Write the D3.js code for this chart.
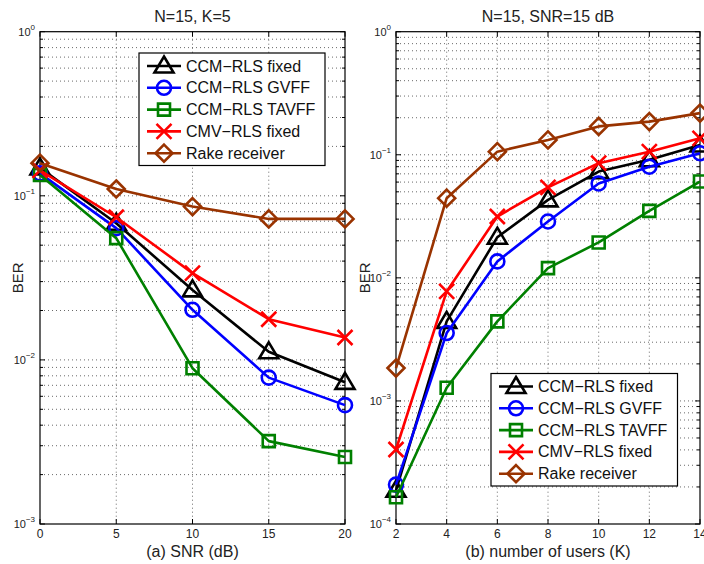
<!DOCTYPE html>
<html><head><meta charset="utf-8">
<script src="https://cdn.jsdelivr.net/npm/d3@7"></script>
<style>
html,body{margin:0;padding:0;background:#fff;}
svg{display:block;font-family:"Liberation Sans",Arial,Helvetica,sans-serif;}
</style></head>
<body>
<script>
// ---------- data ----------
const seriesNames = ["CCM\u2212RLS fixed","CCM\u2212RLS GVFF","CCM\u2212RLS TAVFF","CMV\u2212RLS fixed","Rake receiver"];
const seriesColors = ["#000000","#0000ff","#008000","#ff0000","#993300"];
const seriesMarkers = ["triangle","circle","square","cross","diamond"];

// (a) BER vs SNR
const snr = [0,5,10,15,20];
const berA_ccmFixed = [0.148,0.068,0.0267,0.0112,0.0073];
const berA_ccmGVFF  = [0.137,0.0635,0.0202,0.0078,0.0053];
const berA_ccmTAVFF = [0.134,0.0552,0.0089,0.0032,0.00256];
const berA_cmvFixed = [0.143,0.074,0.0338,0.0177,0.0137];
const berA_rake     = [0.158,0.110,0.086,0.0723,0.0723];

// (b) BER vs number of users
const users = [2,4,6,8,10,12,14];
const berB_ccmFixed = [0.000188,0.00443,0.0214,0.043,0.073,0.091,0.12];
const berB_ccmGVFF  = [0.000209,0.00356,0.0136,0.0287,0.0585,0.080,0.103];
const berB_ccmTAVFF = [0.000165,0.00128,0.00443,0.012,0.0194,0.035,0.0606];
const berB_cmvFixed = [0.000403,0.00776,0.0315,0.0544,0.0855,0.106,0.136];
const berB_rake     = [0.00185,0.0444,0.106,0.132,0.170,0.186,0.218];

const xTicksA = [0,5,10,15,20];
const xTicksB = [2,4,6,8,10,12,14];
const yExpA = [0,-1,-2,-3];
const yExpB = [0,-1,-2,-3,-4];

const titles = ["N=15, K=5","N=15, SNR=15 dB"];
const xLabels = ["(a) SNR (dB)","(b) number of users (K)"];
const yLabel = "BER";

// ---------- drawing ----------
const W=704,H=564;
const svg=d3.select("body").append("svg").attr("width",W).attr("height",H);

function markerPath(type){
  switch(type){
    case "triangle": return "M0,-9.5L9.5,6.5L-9.5,6.5Z";
    case "square": return "M-6,-6H6V6H-6Z";
    case "diamond": return "M0,-8.5L8.5,0L0,8.5L-8.5,0Z";
    case "cross": return "M-7.5,-7.5L7.5,7.5M7.5,-7.5L-7.5,7.5";
    default: return null;
  }
}
function drawMarker(g,type,x,y,color){
  if(type==="circle"){
    g.append("circle").attr("cx",x).attr("cy",y).attr("r",7)
     .attr("fill","none").attr("stroke",color).attr("stroke-width",2.6);
  } else {
    g.append("path").attr("d",markerPath(type)).attr("transform",`translate(${x},${y})`)
     .attr("fill","none").attr("stroke",color).attr("stroke-width",2.6).attr("stroke-linejoin","miter");
  }
}

function panel(opt){
  const {x0,x1,y0,y1,xDomain,yDomain,xTicks,yExps,xs,ys,title,xLabel,legend,berX} = opt;
  const x=d3.scaleLinear().domain(xDomain).range([x0,x1]);
  const y=d3.scaleLog().domain(yDomain).range([y1,y0]);
  const g=svg.append("g");
  // grid
  const grid=g.append("g").attr("stroke","#444").attr("stroke-width",0.8).attr("stroke-dasharray","1,3");
  xTicks.forEach(t=>{ if(t>xDomain[0]&&t<xDomain[1]) grid.append("line").attr("x1",x(t)).attr("x2",x(t)).attr("y1",y0).attr("y2",y1);});
  const minor=[];
  for(let e=Math.round(Math.log10(yDomain[0])); e<Math.round(Math.log10(yDomain[1])); e++){
    for(let m=1;m<=9;m++){ minor.push({v:m*Math.pow(10,e),major:m===1}); }
  }
  minor.forEach(d=>{ if(d.v>yDomain[0]) grid.append("line").attr("x1",x0).attr("x2",x1).attr("y1",y(d.v)).attr("y2",y(d.v));});
  // ticks inside (box)
  const tk=g.append("g").attr("stroke","#000").attr("stroke-width",1);
  xTicks.forEach(t=>{
    tk.append("line").attr("x1",x(t)).attr("x2",x(t)).attr("y1",y1).attr("y2",y1-5);
    tk.append("line").attr("x1",x(t)).attr("x2",x(t)).attr("y1",y0).attr("y2",y0+5);
  });
  minor.concat([{v:yDomain[1],major:true}]).forEach(d=>{
    const L=d.major?5:3;
    tk.append("line").attr("x1",x0).attr("x2",x0+L).attr("y1",y(d.v)).attr("y2",y(d.v));
    tk.append("line").attr("x1",x1).attr("x2",x1-L).attr("y1",y(d.v)).attr("y2",y(d.v));
  });
  // frame
  g.append("rect").attr("x",x0).attr("y",y0).attr("width",x1-x0).attr("height",y1-y0)
   .attr("fill","none").attr("stroke","#000").attr("stroke-width",1.2);
  // x tick labels
  xTicks.forEach(t=>{
    g.append("text").attr("x",x(t)).attr("y",y1+14).attr("text-anchor","middle")
     .attr("font-size",12).attr("fill","#222").text(t);
  });
  // y tick labels
  yExps.forEach(e=>{
    const tx=g.append("text").attr("x",x0-5).attr("y",y(Math.pow(10,e))+4).attr("text-anchor","end")
      .attr("fill","#222");
    tx.append("tspan").attr("font-size",11).text("10");
    tx.append("tspan").attr("font-size",8).attr("dy",-6).text(e<0?"\u2212"+(-e):String(e));
  });
  // titles / labels
  g.append("text").attr("x",(x0+x1)/2).attr("y",22).attr("text-anchor","middle")
   .attr("font-size",16).attr("fill","#222").text(title);
  g.append("text").attr("x",(x0+x1)/2).attr("y",557).attr("text-anchor","middle")
   .attr("font-size",16).attr("fill","#222").text(xLabel);
  g.append("text").attr("transform",`translate(${berX},${(y0+y1)/2}) rotate(-90)`).attr("text-anchor","middle")
   .attr("font-size",15).attr("fill","#222").text(yLabel);
  // series
  const line=d3.line().x(d=>x(d[0])).y(d=>y(d[1]));
  ys.forEach((vals,i)=>{
    const pts=xs.map((xv,j)=>[xv,vals[j]]);
    const sg=g.append("g");
    sg.append("path").attr("d",line(pts)).attr("fill","none").attr("stroke",seriesColors[i])
      .attr("stroke-width",2.6).attr("stroke-linejoin","round");
    pts.forEach(p=>drawMarker(sg,seriesMarkers[i],x(p[0]),y(p[1]),seriesColors[i]));
  });
  // legend
  const lg=g.append("g");
  lg.append("rect").attr("x",legend.x).attr("y",legend.y).attr("width",legend.w).attr("height",legend.h)
    .attr("fill","#fff").attr("stroke","#000").attr("stroke-width",1.2);
  seriesNames.forEach((n,i)=>{
    const cy=legend.y+13+i*21.8;
    lg.append("line").attr("x1",legend.x+8).attr("x2",legend.x+42).attr("y1",cy).attr("y2",cy)
      .attr("stroke",seriesColors[i]).attr("stroke-width",2.6);
    drawMarker(lg,seriesMarkers[i],legend.x+25,cy,seriesColors[i]);
    lg.append("text").attr("x",legend.x+47).attr("y",cy+5.5).attr("font-size",16).attr("fill","#111").text(n);
  });
}

panel({x0:40,x1:345,y0:31.7,y1:524,xDomain:[0,20],yDomain:[1e-3,1],xTicks:xTicksA,yExps:yExpA,
  xs:snr,ys:[berA_ccmFixed,berA_ccmGVFF,berA_ccmTAVFF,berA_cmvFixed,berA_rake],
  title:titles[0],xLabel:xLabels[0],legend:{x:139,y:53,w:186,h:112.5},berX:23});
panel({x0:396,x1:700,y0:31.7,y1:524,xDomain:[2,14],yDomain:[1e-4,1],xTicks:xTicksB,yExps:yExpB,
  xs:users,ys:[berB_ccmFixed,berB_ccmGVFF,berB_ccmTAVFF,berB_cmvFixed,berB_rake],
  title:titles[1],xLabel:xLabels[1],legend:{x:491,y:373.5,w:186.5,h:112.5},berX:370});
</script>
</body></html>
